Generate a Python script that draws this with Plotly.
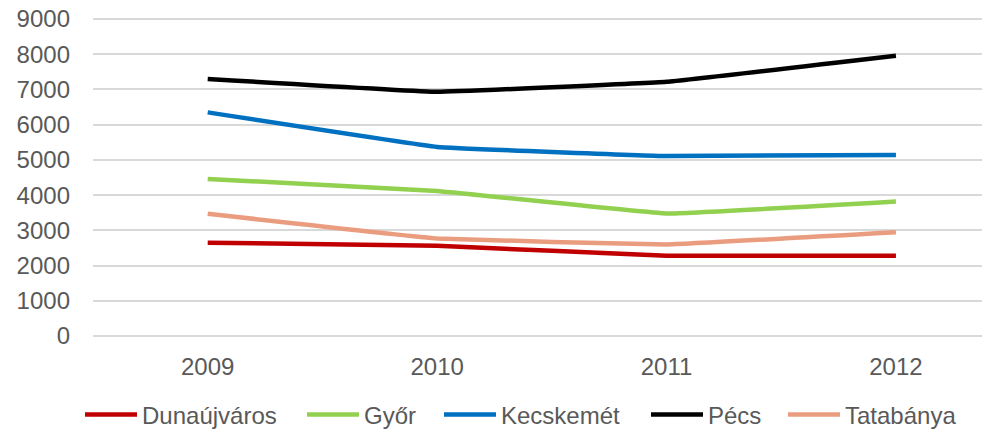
import plotly.graph_objects as go

years = ["2009", "2010", "2011", "2012"]
dunaujvaros = [2650, 2560, 2280, 2280]
gyor = [4460, 4120, 3480, 3820]
kecskemet = [6350, 5370, 5110, 5140]
pecs = [7300, 6935, 7220, 7960]
tatabanya = [3470, 2770, 2600, 2945]
y_ticks = [0, 1000, 2000, 3000, 4000, 5000, 6000, 7000, 8000, 9000]

series = [
    ("Dunaújváros", dunaujvaros, "#C00000"),
    ("Győr", gyor, "#92D050"),
    ("Kecskemét", kecskemet, "#0070C0"),
    ("Pécs", pecs, "#000000"),
    ("Tatabánya", tatabanya, "#EA9C7E"),
]
# page has an 8px body offset; figure is sized to fill the rest
W, H = 982, 421
legend_x_px = [72, 294, 431, 638, 775]

font = "Liberation Sans, Arial, sans-serif"
fig = go.Figure()
legend_layouts = {}
for i, (name, vals, color) in enumerate(series):
    lg = "legend" if i == 0 else f"legend{i+1}"
    fig.add_trace(go.Scatter(
        x=years, y=vals, name=name, mode="lines", legend=lg,
        line=dict(color=color, width=4.5, shape="spline", smoothing=0.2),
    ))
    legend_layouts[lg] = dict(
        xref="container", yref="container",
        x=legend_x_px[i] / W, xanchor="left",
        y=1 - 407 / H, yanchor="middle",
        orientation="h", font=dict(family=font, size=24, color="#595959"),
        itemwidth=52, bgcolor="rgba(0,0,0,0)", borderwidth=0,
    )

fig.update_layout(
    width=W, height=H,
    margin=dict(l=85, r=0, t=10, b=93),
    paper_bgcolor="white", plot_bgcolor="white",
    font=dict(family=font, size=24, color="#595959"),
    showlegend=True,
    xaxis=dict(type="category", range=[-0.5, 3.41], showgrid=False, zeroline=False,
               showline=False, ticks="", ticklabelstandoff=14, automargin=False,
               tickfont=dict(size=24, color="#595959")),
    yaxis=dict(range=[0, 9030], tickvals=y_ticks, showgrid=True, gridcolor="#D9D9D9",
               gridwidth=1.5, zeroline=True, zerolinecolor="#D9D9D9", zerolinewidth=1.5,
               showline=False, ticks="", ticklabelstandoff=22, automargin=False,
               ticklabeloverflow="allow",
               tickfont=dict(size=24, color="#595959")),
    **legend_layouts,
)

fig.write_html("out.html")
